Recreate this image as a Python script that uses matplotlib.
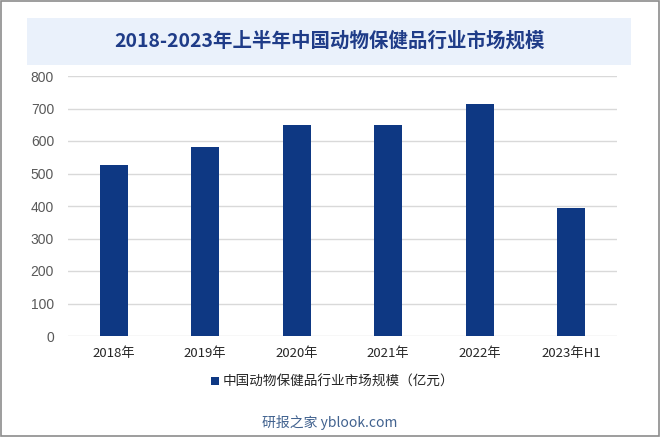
import matplotlib
matplotlib.use('Agg')
import matplotlib.pyplot as plt
from matplotlib.patches import Rectangle

# ---------------------------------------------------------------------------
# Data
# ---------------------------------------------------------------------------
years = ['2018年', '2019年', '2020年', '2021年', '2022年', '2023年H1']
market_size = [526, 581, 650, 650, 713, 395]  # 亿元
y_ticks = [0, 100, 200, 300, 400, 500, 600, 700, 800]

title = '2018-2023年上半年中国动物保健品行业市场规模'
legend_label = '中国动物保健品行业市场规模（亿元）'
watermark = '研报之家 yblook.com'

# ---------------------------------------------------------------------------
# Style
# ---------------------------------------------------------------------------
plt.rcParams['font.family'] = ['Noto Sans CJK SC', 'DejaVu Sans']
bar_color = '#0E3883'


def main():
    fig = plt.figure(figsize=(6.6, 4.37), dpi=100)
    fig.patch.set_facecolor('white')

    # outer grey frame
    fig.add_artist(Rectangle((0.0008, 0.0012), 0.9984, 0.9976, transform=fig.transFigure,
                             fill=False, edgecolor='#8C8C8C', linewidth=1.2))

    # title band
    fig.add_artist(Rectangle((27 / 660, 1 - 65 / 437), 604 / 660, 47 / 437,
                             transform=fig.transFigure, facecolor='#EAF1FB',
                             edgecolor='none'))
    fig.text(0.5, 1 - 41 / 437, title, ha='center', va='center',
             fontsize=14, fontweight='bold', color='#1F3C88')

    ax = fig.add_axes([68 / 660, 1 - 336 / 437, 549 / 660, 260 / 437])
    x = range(len(years))
    ax.bar(x, market_size, width=0.31, color=bar_color, zorder=3,
           label=legend_label)

    ax.set_xlim(-0.5, len(years) - 0.5)
    ax.set_ylim(0, 800)
    ax.set_yticks(y_ticks)
    ax.set_xticks(list(x))
    ax.set_xticklabels(years)
    ax.yaxis.grid(True, color='#D9D9D9', linewidth=1)
    ax.set_axisbelow(True)
    for s in ax.spines.values():
        s.set_visible(False)
    ax.tick_params(axis='y', length=0, pad=10, labelsize=10, labelcolor='#595959')
    ax.tick_params(axis='x', length=0, pad=8, labelsize=9.5, labelcolor='#262626')
    for lab in ax.get_yticklabels():
        lab.set_family(['Liberation Sans'])

    leg = ax.legend(loc='center', bbox_to_anchor=((333 - 68) / 549, (336 - 382) / 260),
                    frameon=False, fontsize=9.8, handlelength=0.55,
                    handleheight=0.55, handletextpad=0.3)
    for t in leg.get_texts():
        t.set_color('#262626')

    fig.text(0.5, 1 - 422 / 437, watermark, ha='center', va='center',
             fontsize=10, color='#41628F')

    fig.savefig('out.png', dpi=100)


if __name__ == '__main__':
    main()
